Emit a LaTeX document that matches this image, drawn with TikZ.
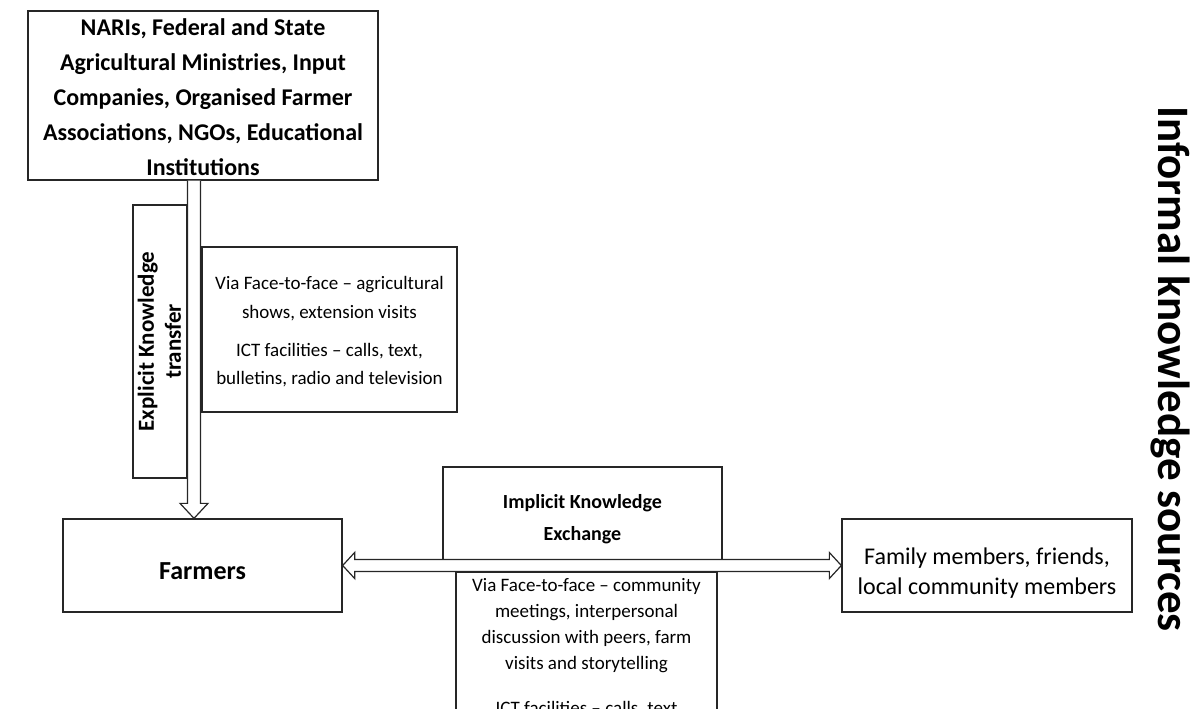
\documentclass[tikz,border=0pt]{standalone}
\usepackage{fontspec}
\setmainfont{Carlito}
\usetikzlibrary{calc}
% centred lines of text, drawn a little below the natural centre;
% the reported extent is trimmed evenly so that boxes keep their given size
\newcommand{\shiftdown}[2]{\raisebox{-#1}[\dimexpr\height-20pt\relax][\dimexpr\depth-20pt\relax]{\begin{tabular}{@{}c@{}}#2\end{tabular}}}
\begin{document}
\begin{tikzpicture}[x=1pt,y=-1pt,
  box/.style={draw=black!85, line width=1.3pt, align=center, inner sep=0pt, text=black},
  fatarrow/.style={draw=black!85, line width=1.2pt, fill=white, line join=miter},
  headfont/.style={font=\fontsize{24}{34.8}\selectfont\bfseries},
  viafont/.style={font=\fontsize{19}{28.8}\selectfont},
]
\useasboundingbox (0,0) rectangle (1200,709);
\clip (0,0) rectangle (1200,709);

% knowledge providers
\node[box, headfont, minimum width=350, minimum height=169] (src) at (203,95.5)
  {\shiftdown{3pt}{NARIs, Federal and State\\Agricultural Ministries, Input\\Companies, Organised Farmer\\Associations, NGOs, Educational\\Institutions}};

% label beside the downward arrow
\node[box, rotate=90, font=\fontsize{23}{27}\selectfont\bfseries,
      minimum width=273, minimum height=54] (explicit) at (160,341.5)
  {\shiftdown{2pt}{Explicit Knowledge\\transfer}};

% explicit transfer channels
\node[box, viafont, minimum width=255, minimum height=165] (via1) at (329.5,329.5)
  {\shiftdown{2pt}{Via Face-to-face -- agricultural\\shows, extension visits\\[9pt]ICT facilities -- calls, text,\\bulletins, radio and television}};

% farmers and their peers
\node[box, font=\fontsize{26}{30}\selectfont\bfseries,
      minimum width=279, minimum height=93] (farmers) at (202.5,565.5)
  {\raisebox{-6pt}[\height][\depth]{Farmers}};
\node[box, font=\fontsize{24}{30.5}\selectfont,
      minimum width=290, minimum height=93] (family) at (987,565.5)
  {\shiftdown{8pt}{Family members, friends,\\local community members}};

% implicit exchange label and channels
\node[box, font=\fontsize{20}{32}\selectfont\bfseries,
      minimum width=279, minimum height=92.5] (implicit) at (582.5,513.25)
  {\shiftdown{5pt}{Implicit Knowledge\\Exchange}};
\node[box, font=\fontsize{19}{26}\selectfont, anchor=north,
      minimum width=261, inner ysep=6.5pt] (via2) at (586.5,571.5)
  {Via Face-to-face -- community\\meetings, interpersonal\\discussion with peers, farm\\visits and storytelling\\[19pt]ICT facilities -- calls, text\\[2pt]};

% side caption
\node[font=\fontsize{45}{50}\selectfont\bfseries, rotate=-90, text=black] (informal) at (1170,369)
  {Informal knowledge sources};

% hollow arrow: providers -> farmers
\coordinate (col) at (194,0);
\draw[fatarrow]
  ($(src.south -| col)+(-6.5,0)$) -- ($(farmers.north -| col)+(-6.5,-15)$) -- ++(-7.5,0)
  -- (farmers.north -| col)
  -- ($(farmers.north -| col)+(14,-15)$) -- ++(-7.5,0) -- ($(src.south -| col)+(6.5,0)$);

% hollow double arrow: farmers <-> family
\draw[fatarrow]
  (farmers.east) -- ++(12,-13) -- ++(0,7) -- ($(family.west)+(-12,-6)$) -- ++(0,-7)
  -- (family.west) -- ++(-12,13) -- ++(0,-7) -- ($(farmers.east)+(12,6)$) -- ++(0,7) -- cycle;
\end{tikzpicture}
\end{document}
